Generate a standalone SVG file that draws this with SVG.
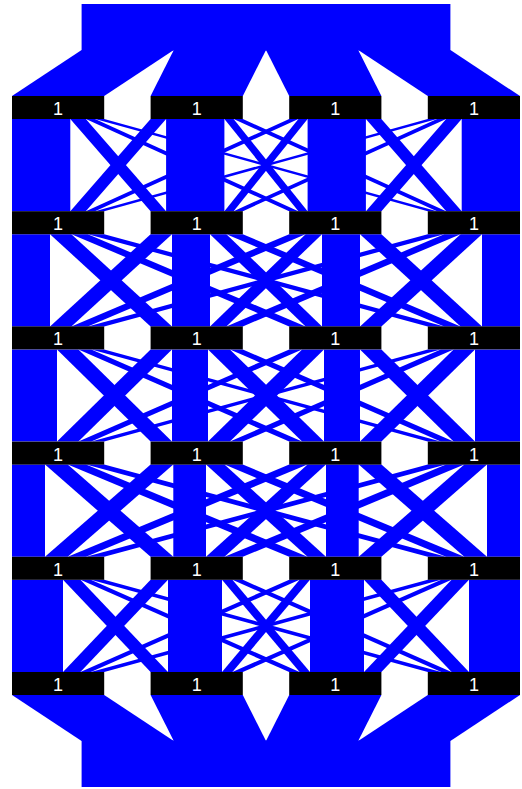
<svg xmlns="http://www.w3.org/2000/svg" width="522" height="789" viewBox="0 0 522 789">
<style>
.l{fill:#0000ff}
.n rect{fill:#000}
.n text{fill:#fff;font-family:"Liberation Sans",Arial,sans-serif;font-size:18px;text-anchor:middle}
</style>
<rect width="522" height="789" fill="#fff"/>
<g id="connectors">
<rect class="l" x="81.6" y="4" width="368.8" height="46.5"/>
<path class="l" d="M81.6 50H173.8L104.2 96H12Z"/>
<path class="l" d="M173.8 50H266L242.8 96H150.6Z"/>
<path class="l" d="M266 50H358.2L381.4 96H289.2Z"/>
<path class="l" d="M358.2 50H450.4L520 96H427.8Z"/>
<!-- gap 1 -->
<path class="l" d="M12 119H70.3L70.3 211.2H12Z"/>
<path class="l" d="M70.3 119H85.8L166.1 211.2H150.6Z"/>
<path class="l" d="M85.8 119H95L298.4 211.2H289.2Z"/>
<path class="l" d="M95 119H104.2L437 211.2H427.8Z"/>
<path class="l" d="M150.6 119H166.1L85.8 211.2H70.3Z"/>
<path class="l" d="M166.1 119H224.4L224.4 211.2H166.1Z"/>
<path class="l" d="M224.4 119H233.6L307.6 211.2H298.4Z"/>
<path class="l" d="M233.6 119H242.8L446.2 211.2H437Z"/>
<path class="l" d="M289.2 119H298.4L95 211.2H85.8Z"/>
<path class="l" d="M298.4 119H307.6L233.6 211.2H224.4Z"/>
<path class="l" d="M307.6 119H365.9L365.9 211.2H307.6Z"/>
<path class="l" d="M365.9 119H381.4L461.7 211.2H446.2Z"/>
<path class="l" d="M427.8 119H437L104.2 211.2H95Z"/>
<path class="l" d="M437 119H446.2L242.8 211.2H233.6Z"/>
<path class="l" d="M446.2 119H461.7L381.4 211.2H365.9Z"/>
<path class="l" d="M461.7 119H520L520 211.2H461.7Z"/>
<!-- gap 2 -->
<path class="l" d="M12 234.2H50L50 326.4H12Z"/>
<path class="l" d="M50 234.2H71.4L172 326.4H150.6Z"/>
<path class="l" d="M71.4 234.2H87.8L305.6 326.4H289.2Z"/>
<path class="l" d="M87.8 234.2H104.2L444.2 326.4H427.8Z"/>
<path class="l" d="M150.6 234.2H172L71.4 326.4H50Z"/>
<path class="l" d="M172 234.2H210L210 326.4H172Z"/>
<path class="l" d="M210 234.2H226.4L322 326.4H305.6Z"/>
<path class="l" d="M226.4 234.2H242.8L460.6 326.4H444.2Z"/>
<path class="l" d="M289.2 234.2H305.6L87.8 326.4H71.4Z"/>
<path class="l" d="M305.6 234.2H322L226.4 326.4H210Z"/>
<path class="l" d="M322 234.2H360L360 326.4H322Z"/>
<path class="l" d="M360 234.2H381.4L482 326.4H460.6Z"/>
<path class="l" d="M427.8 234.2H444.2L104.2 326.4H87.8Z"/>
<path class="l" d="M444.2 234.2H460.6L242.8 326.4H226.4Z"/>
<path class="l" d="M460.6 234.2H482L381.4 326.4H360Z"/>
<path class="l" d="M482 234.2H520L520 326.4H482Z"/>
<!-- gap 3 -->
<path class="l" d="M12 349.4H57L57 441.6H12Z"/>
<path class="l" d="M57 349.4H78.4L172 441.6H150.6Z"/>
<path class="l" d="M78.4 349.4H91.3L302.1 441.6H289.2Z"/>
<path class="l" d="M91.3 349.4H104.2L440.7 441.6H427.8Z"/>
<path class="l" d="M150.6 349.4H172L78.4 441.6H57Z"/>
<path class="l" d="M172 349.4H208L208 441.6H172Z"/>
<path class="l" d="M208 349.4H229.9L324 441.6H302.1Z"/>
<path class="l" d="M229.9 349.4H242.8L453.6 441.6H440.7Z"/>
<path class="l" d="M289.2 349.4H302.1L91.3 441.6H78.4Z"/>
<path class="l" d="M302.1 349.4H324L229.9 441.6H208Z"/>
<path class="l" d="M324 349.4H360L360 441.6H324Z"/>
<path class="l" d="M360 349.4H381.4L475 441.6H453.6Z"/>
<path class="l" d="M427.8 349.4H440.7L104.2 441.6H91.3Z"/>
<path class="l" d="M440.7 349.4H453.6L242.8 441.6H229.9Z"/>
<path class="l" d="M453.6 349.4H475L381.4 441.6H360Z"/>
<path class="l" d="M475 349.4H520L520 441.6H475Z"/>
<!-- gap 4 -->
<path class="l" d="M12 464.6H45L45 556.8H12Z"/>
<path class="l" d="M45 464.6H67.7L173.3 556.8H150.6Z"/>
<path class="l" d="M67.7 464.6H86L307.5 556.8H289.2Z"/>
<path class="l" d="M86 464.6H104.2L446 556.8H427.8Z"/>
<path class="l" d="M150.6 464.6H173.3L67.7 556.8H45Z"/>
<path class="l" d="M173.3 464.6H206L206 556.8H173.3Z"/>
<path class="l" d="M206 464.6H224.5L326 556.8H307.5Z"/>
<path class="l" d="M224.5 464.6H242.8L464.3 556.8H446Z"/>
<path class="l" d="M289.2 464.6H307.5L86 556.8H67.7Z"/>
<path class="l" d="M307.5 464.6H326L224.5 556.8H206Z"/>
<path class="l" d="M326 464.6H358.7L358.7 556.8H326Z"/>
<path class="l" d="M358.7 464.6H381.4L487 556.8H464.3Z"/>
<path class="l" d="M427.8 464.6H446L104.2 556.8H86Z"/>
<path class="l" d="M446 464.6H464.3L242.8 556.8H224.5Z"/>
<path class="l" d="M464.3 464.6H487L381.4 556.8H358.7Z"/>
<path class="l" d="M487 464.6H520L520 556.8H487Z"/>
<!-- gap 5 -->
<path class="l" d="M12 579.8H63L63 672H12Z"/>
<path class="l" d="M63 579.8H80.4L168 672H150.6Z"/>
<path class="l" d="M80.4 579.8H90.8L299.6 672H289.2Z"/>
<path class="l" d="M90.8 579.8H104.2L441.2 672H427.8Z"/>
<path class="l" d="M150.6 579.8H168L80.4 672H63Z"/>
<path class="l" d="M168 579.8H222L222 672H168Z"/>
<path class="l" d="M222 579.8H232.4L310 672H299.6Z"/>
<path class="l" d="M232.4 579.8H242.8L451.6 672H441.2Z"/>
<path class="l" d="M289.2 579.8H299.6L90.8 672H80.4Z"/>
<path class="l" d="M299.6 579.8H310L232.4 672H222Z"/>
<path class="l" d="M310 579.8H364L364 672H310Z"/>
<path class="l" d="M364 579.8H381.4L469 672H451.6Z"/>
<path class="l" d="M427.8 579.8H441.2L104.2 672H90.8Z"/>
<path class="l" d="M441.2 579.8H451.6L242.8 672H232.4Z"/>
<path class="l" d="M451.6 579.8H469L381.4 672H364Z"/>
<path class="l" d="M469 579.8H520L520 672H469Z"/>
<!-- bottom -->
<path class="l" d="M12 695H104.2L173.8 741H81.6Z"/>
<path class="l" d="M150.6 695H242.8L266 741H173.8Z"/>
<path class="l" d="M289.2 695H381.4L358.2 741H266Z"/>
<path class="l" d="M427.8 695H520L450.4 741H358.2Z"/>
<rect class="l" x="81.6" y="740.5" width="368.8" height="46.5"/>
</g>
<g id="r1c1" class="n"><rect x="12" y="96" width="92.2" height="23"/><text x="58.1" y="115">1</text></g>
<g id="r1c2" class="n"><rect x="150.6" y="96" width="92.2" height="23"/><text x="196.7" y="115">1</text></g>
<g id="r1c3" class="n"><rect x="289.2" y="96" width="92.2" height="23"/><text x="335.3" y="115">1</text></g>
<g id="r1c4" class="n"><rect x="427.8" y="96" width="92.2" height="23"/><text x="473.9" y="115">1</text></g>
<g id="r2c1" class="n"><rect x="12" y="211.2" width="92.2" height="23"/><text x="58.1" y="230.2">1</text></g>
<g id="r2c2" class="n"><rect x="150.6" y="211.2" width="92.2" height="23"/><text x="196.7" y="230.2">1</text></g>
<g id="r2c3" class="n"><rect x="289.2" y="211.2" width="92.2" height="23"/><text x="335.3" y="230.2">1</text></g>
<g id="r2c4" class="n"><rect x="427.8" y="211.2" width="92.2" height="23"/><text x="473.9" y="230.2">1</text></g>
<g id="r3c1" class="n"><rect x="12" y="326.4" width="92.2" height="23"/><text x="58.1" y="345.4">1</text></g>
<g id="r3c2" class="n"><rect x="150.6" y="326.4" width="92.2" height="23"/><text x="196.7" y="345.4">1</text></g>
<g id="r3c3" class="n"><rect x="289.2" y="326.4" width="92.2" height="23"/><text x="335.3" y="345.4">1</text></g>
<g id="r3c4" class="n"><rect x="427.8" y="326.4" width="92.2" height="23"/><text x="473.9" y="345.4">1</text></g>
<g id="r4c1" class="n"><rect x="12" y="441.6" width="92.2" height="23"/><text x="58.1" y="460.6">1</text></g>
<g id="r4c2" class="n"><rect x="150.6" y="441.6" width="92.2" height="23"/><text x="196.7" y="460.6">1</text></g>
<g id="r4c3" class="n"><rect x="289.2" y="441.6" width="92.2" height="23"/><text x="335.3" y="460.6">1</text></g>
<g id="r4c4" class="n"><rect x="427.8" y="441.6" width="92.2" height="23"/><text x="473.9" y="460.6">1</text></g>
<g id="r5c1" class="n"><rect x="12" y="556.8" width="92.2" height="23"/><text x="58.1" y="575.8">1</text></g>
<g id="r5c2" class="n"><rect x="150.6" y="556.8" width="92.2" height="23"/><text x="196.7" y="575.8">1</text></g>
<g id="r5c3" class="n"><rect x="289.2" y="556.8" width="92.2" height="23"/><text x="335.3" y="575.8">1</text></g>
<g id="r5c4" class="n"><rect x="427.8" y="556.8" width="92.2" height="23"/><text x="473.9" y="575.8">1</text></g>
<g id="r6c1" class="n"><rect x="12" y="672" width="92.2" height="23"/><text x="58.1" y="691">1</text></g>
<g id="r6c2" class="n"><rect x="150.6" y="672" width="92.2" height="23"/><text x="196.7" y="691">1</text></g>
<g id="r6c3" class="n"><rect x="289.2" y="672" width="92.2" height="23"/><text x="335.3" y="691">1</text></g>
<g id="r6c4" class="n"><rect x="427.8" y="672" width="92.2" height="23"/><text x="473.9" y="691">1</text></g>
</svg>
